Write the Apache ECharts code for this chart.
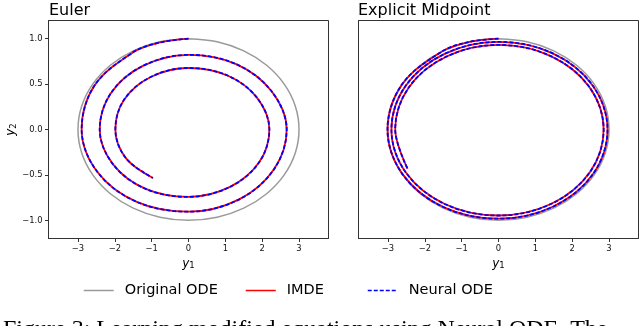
<!doctype html>
<html>
<head>
<meta charset="utf-8">
<title>Euler / Explicit Midpoint</title>
<style>
	html, body { margin: 0; padding: 0; background: #fff; }
	#main { width: 640px; height: 326px; }
</style>
<script src="https://cdn.jsdelivr.net/npm/echarts@6/dist/echarts.min.js"></script>
</head>
<body>
<div id="main"></div>
<script>
	// 原始 ODE：闭合椭圆，每 15° 读一个点
	var origX = [0, -0.776, -1.5, -2.121, -2.598, -2.898, -3, -2.898, -2.598, -2.121, -1.5, -0.776,
		0, 0.776, 1.5, 2.121, 2.598, 2.898, 3, 2.898, 2.598, 2.121, 1.5, 0.776, 0];
	var origY = [1, 0.966, 0.866, 0.707, 0.5, 0.259, 0, -0.259, -0.5, -0.707, -0.866, -0.966,
		-1, -0.966, -0.866, -0.707, -0.5, -0.259, 0, 0.259, 0.5, 0.707, 0.866, 0.966, 1];

	// Euler：IMDE 与 Neural ODE 两条线重合，从 (0,1) 逆时针向内收
	var eulerX = [0, -0.781, -1.496, -2.551, -2.900, -2.472, -1.405, 0, 1.362, 2.321, 2.665, 2.250, 1.279,
		0, -1.239, -2.112, -2.410, -2.047, -1.163, 0, 1.127, 1.922, 2.195, 1.863, 1.059,
		0, -1.026, -1.749, -1.985, -1.695, -0.965];
	var eulerY = [1, 0.958, 0.852, 0.484, 0, -0.468, -0.797, -0.905, -0.772, -0.438, 0, 0.424, 0.722,
		0.822, 0.700, 0.397, 0, -0.384, -0.654, -0.742, -0.632, -0.359, 0, 0.348, 0.594,
		0.677, 0.578, 0.328, 0, -0.318, -0.534];

	// Explicit Midpoint：收得很慢，三圈挤在一起
	var midX = [0, -0.786, -1.515, -2.617, -3.013, -2.601, -1.497, 0, 1.488, 2.570, 2.959, 2.555, 1.471,
		0, -1.462, -2.524, -2.906, -2.509, -1.444, 0, 1.436, 2.479, 2.854, 2.465, 1.419,
		0, -1.410, -2.435, -2.804, -2.468];
	var midY = [1, 0.965, 0.863, 0.497, 0, -0.494, -0.853, -0.982, -0.848, -0.488, 0, 0.485, 0.838,
		0.965, 0.833, 0.479, 0, -0.477, -0.823, -0.947, -0.818, -0.471, 0, 0.468, 0.808,
		0.931, 0.803, 0.463, 0, -0.432];

	var titles = ['Euler', 'Explicit Midpoint'];
	var names = ['Original ODE', 'IMDE', 'Neural ODE'];
	var xTicks = [-3, -2, -1, 0, 1, 2, 3];
	var yTicks = [-1, -0.5, 0, 0.5, 1];
	var caption = 'Figure 3: Learning modified equations using Neural ODE. The';

	function pairs(xs, ys) {
		var out = [];
		for (var i = 0; i < xs.length; i++) out.push([xs[i], ys[i]]);
		return out;
	}
	function minus(v, d) {
		return v.toFixed(d).replace('-', '\u2212');
	}

	var FONT = 'DejaVu Sans';
	var AXIS_COLOR = '#333';
	var nameRich = {
		i: { fontFamily: FONT, fontStyle: 'italic', fontSize: 12, color: '#000' },
		s: { fontFamily: FONT, fontSize: 8.5, color: '#000', padding: [5, 0, 0, 0] }
	};

	function makeX(idx) {
		return {
			type: 'value', gridIndex: idx, min: -3.8, max: 3.8,
			axisLine: { show: true, onZero: false, lineStyle: { color: AXIS_COLOR, width: 1 } },
			axisTick: { show: true, length: 3.5, customValues: xTicks, lineStyle: { color: AXIS_COLOR, width: 1 } },
			axisLabel: { customValues: xTicks, formatter: function (v) { return minus(v, 0); },
				fontFamily: FONT, fontSize: 8.4, color: '#111', margin: 6 },
			splitLine: { show: false },
			name: '{i|y}{s|1}', nameLocation: 'middle', nameGap: 15,
			nameTextStyle: { rich: nameRich }
		};
	}
	function makeY(idx, withLabels) {
		var ax = {
			type: 'value', gridIndex: idx, min: -1.2, max: 1.2,
			axisLine: { show: true, onZero: false, lineStyle: { color: AXIS_COLOR, width: 1 } },
			axisTick: { show: withLabels, length: 3.5, customValues: yTicks, lineStyle: { color: AXIS_COLOR, width: 1 } },
			axisLabel: { show: withLabels, customValues: yTicks, formatter: function (v) { return minus(v, 1); },
				fontFamily: FONT, fontSize: 8.4, color: '#111', margin: 6 },
			splitLine: { show: false }
		};
		if (withLabels) {
			ax.name = '{i|y}{s|2}';
			ax.nameLocation = 'middle';
			ax.nameGap = 30;
			ax.nameTextStyle = { rich: nameRich };
		}
		return ax;
	}

	function panelSeries(idx, xs, ys) {
		return [
			{ name: names[0], type: 'line', xAxisIndex: idx, yAxisIndex: idx, data: pairs(origX, origY),
				smooth: 0.34, symbol: 'none', lineStyle: { color: '#9a9a9a', width: 1.5 }, itemStyle: { color: '#9a9a9a' } },
			{ name: names[1], type: 'line', xAxisIndex: idx, yAxisIndex: idx, data: pairs(xs, ys),
				smooth: 0.35, symbol: 'none', lineStyle: { color: '#ff0000', width: 1.8 }, itemStyle: { color: '#ff0000' } },
			{ name: names[2], type: 'line', xAxisIndex: idx, yAxisIndex: idx, data: pairs(xs, ys),
				smooth: 0.35, symbol: 'none', lineStyle: { color: '#0000ff', width: 1.8, type: [4, 2] }, itemStyle: { color: '#0000ff' } }
		];
	}

	function oneLegend(name, left) {
		return {
			data: [name], left: left, top: 283, padding: 0,
			itemWidth: 30, itemHeight: 14, selectedMode: false,
			itemStyle: { opacity: 0 },
			lineStyle: { width: 1.5 },
			textStyle: { fontFamily: FONT, fontSize: 14.5, color: '#000', padding: [0, 0, 0, 6] }
		};
	}

	var myChart = echarts.init(document.getElementById('main'));
	var option = {
		animation: false,
		backgroundColor: '#fff',
		title: [
			{ text: titles[0], left: 49, top: 3, padding: 0,
				textStyle: { fontFamily: FONT, fontSize: 16, fontWeight: 'normal', color: '#000' } },
			{ text: titles[1], left: 358, top: 3, padding: 0,
				textStyle: { fontFamily: FONT, fontSize: 16, fontWeight: 'normal', color: '#000' } }
		],
		grid: [
			{ left: 48.5, top: 20.5, width: 280, height: 218, show: true, borderColor: AXIS_COLOR, borderWidth: 1 },
			{ left: 358.5, top: 20.5, width: 280, height: 218, show: true, borderColor: AXIS_COLOR, borderWidth: 1 }
		],
		xAxis: [makeX(0), makeX(1)],
		yAxis: [makeY(0, true), makeY(1, false)],
		legend: [oneLegend(names[0], 83), oneLegend(names[1], 245), oneLegend(names[2], 367)],
		graphic: [{
			type: 'text', left: 3, top: 318,
			style: { text: caption, font: '24px "Liberation Serif"', fill: '#000' }
		}],
		series: panelSeries(0, eulerX, eulerY).concat(panelSeries(1, midX, midY))
	};
	myChart.setOption(option);
</script>
</body>
</html>
